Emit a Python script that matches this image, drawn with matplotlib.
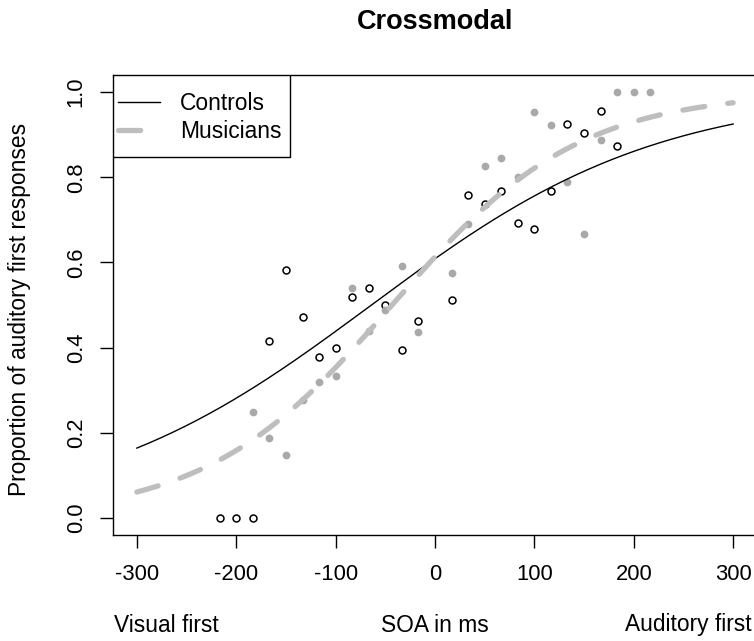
import numpy as np
import matplotlib
matplotlib.use("Agg")
import matplotlib.pyplot as plt
from matplotlib.patches import Rectangle

plt.rcParams['font.family'] = ['Liberation Sans', 'DejaVu Sans']

# SOA values (ms), one per frame step
soa = [-216.7, -200, -183.3, -166.7, -150, -133.3, -116.7, -100, -83.3, -66.7,
       -50, -33.3, -16.7, 16.7, 33.3, 50, 66.7, 83.3, 100, 116.7, 133.3, 150,
       166.7, 183.3, 200, 216.7]

# Controls: proportion of auditory-first responses (last two not visible)
ctrl_soa = soa[:24]
ctrl_prop = [0.0, 0.0, 0.0, 0.415, 0.583, 0.473, 0.379, 0.399, 0.518, 0.541,
             0.499, 0.394, 0.463, 0.512, 0.759, 0.736, 0.768, 0.692, 0.678,
             0.768, 0.925, 0.904, 0.956, 0.874]

# Musicians
mus_soa = soa[2:]
mus_prop = [0.249, 0.187, 0.149, 0.277, 0.319, 0.333, 0.541, 0.440, 0.488,
            0.592, 0.436, 0.574, 0.691, 0.827, 0.845, 0.800, 0.952, 0.922,
            0.789, 0.666, 0.888, 1.0, 1.0, 1.0]

# fitted logistic parameters (intercept, slope per ms)
ctrl_fit = (0.4415, 0.00690)
mus_fit = (0.460, 0.01065)

xfit = np.linspace(-300, 300, 301)


def logistic(x, p):
    return 1.0 / (1.0 + np.exp(-(p[0] + p[1] * x)))


FS_TICK = 15.8
FS = 16.4
W, H = 754, 641
fig = plt.figure(figsize=(W / 100, H / 100), dpi=100)
ax_l, ax_r, ax_t, ax_b = 113, 757, 75, 535
ax = fig.add_axes([ax_l / W, 1 - ax_b / H, (ax_r - ax_l) / W, (ax_b - ax_t) / H])

ax.plot(ctrl_soa, ctrl_prop, 'o', mfc='white', mec='black', mew=1.1, ms=5.0,
        zorder=3)
ax.plot(mus_soa, mus_prop, 'o', color='#a9a9a9', mec='none', ms=5.6, zorder=4)

ax.plot(xfit, logistic(xfit, ctrl_fit), color='black', lw=1.0, label='Controls',
        zorder=5)
ax.plot(xfit, logistic(xfit, mus_fit), color='#bebebe', lw=3.8,
        dashes=(4.2, 4.4), dash_capstyle='round', label='Musicians', zorder=5)

ax.set_xlim(-324, 324)
ax.set_ylim(-0.04, 1.04)
ax.set_xticks([-300, -200, -100, 0, 100, 200, 300])
ax.set_xticklabels(['-300', '-200', '-100', '0', '100', '200', '300'])
ax.set_yticks([0.0, 0.2, 0.4, 0.6, 0.8, 1.0])
ax.set_yticklabels(['0.0', '0.2', '0.4', '0.6', '0.8', '1.0'], rotation=90,
                   va='center')
ax.tick_params(axis='both', length=9.4, width=1.0, labelsize=FS_TICK)
ax.tick_params(axis='x', pad=11.5)
ax.tick_params(axis='y', pad=9.5)

for sp in ax.spines.values():
    sp.set_linewidth(1.0)

fig.text(20 / W, 1 - 309 / H, 'Proportion of auditory first responses',
         rotation=90, ha='center', va='center', fontsize=FS)
fig.text(435 / W, 1 - 22 / H, 'Crossmodal', ha='center', va='center',
         fontsize=19.5, fontweight='bold')
fig.text(114 / W, 1 - 625 / H, 'Visual first', ha='left', va='center', fontsize=FS)
fig.text(435 / W, 1 - 625 / H, 'SOA in ms', ha='center', va='center', fontsize=FS)
fig.text(752 / W, 1 - 625 / H, 'Auditory first', ha='right', va='center',
         fontsize=FS)

# legend box (frame drawn separately to match R's padding)
pw, ph = ax_r - ax_l, ax_b - ax_t
ax.add_patch(Rectangle((0, (ax_b - 156.5) / ph), (290 - ax_l) / pw,
                       (156.5 - ax_t) / ph, transform=ax.transAxes,
                       fill=True, fc='white', ec='black', lw=1.0, zorder=6))
leg = ax.legend(loc='upper left', fontsize=FS, frameon=False,
                bbox_to_anchor=(5 / pw, (ax_b - 92) / ph), borderaxespad=0,
                borderpad=0, handlelength=1.85, handletextpad=0.88,
                labelspacing=0.2)
leg.set_zorder(7)

fig.savefig('out.png', dpi=100)
